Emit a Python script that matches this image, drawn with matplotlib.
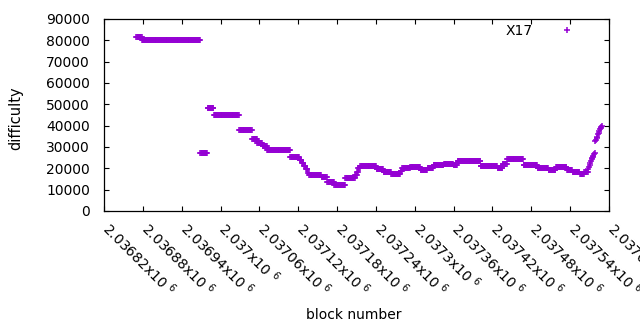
import numpy as np
import matplotlib
matplotlib.use("Agg")
import matplotlib.pyplot as plt
from matplotlib.transforms import ScaledTranslation

plt.rcParams['font.family'] = ['DejaVu Sans']
plt.rcParams['mathtext.default'] = 'regular'

run_start = [2036870, 2036879, 2036969, 2036980, 2036990, 2037029, 2037049, 2037057,
             2037065, 2037072, 2037108, 2037122, 2037126, 2037129, 2037132, 2037135,
             2037137, 2037156, 2037165, 2037176, 2037193, 2037208, 2037211, 2037213,
             2037216, 2037241, 2037252, 2037264, 2037278, 2037281, 2037293, 2037309,
             2037320, 2037329, 2037345, 2037360, 2037366, 2037402, 2037428, 2037436,
             2037443, 2037468, 2037490, 2037507, 2037518, 2037535, 2037544, 2037555,
             2037562]
run_end = [2036878, 2036968, 2036979, 2036989, 2037028, 2037048, 2037056, 2037064,
           2037071, 2037107, 2037121, 2037125, 2037128, 2037131, 2037134, 2037136,
           2037155, 2037164, 2037175, 2037192, 2037207, 2037210, 2037212, 2037215,
           2037240, 2037251, 2037263, 2037277, 2037280, 2037292, 2037308, 2037319,
           2037328, 2037344, 2037359, 2037365, 2037401, 2037427, 2037435, 2037442,
           2037467, 2037489, 2037506, 2037517, 2037534, 2037543, 2037554, 2037561,
           2037566]
run_value = [81500, 80000, 27000, 48500, 45000, 38000, 33600, 32000,
             30700, 28600, 25500, 24000, 22500, 21000, 19500, 18000,
             17000, 15800, 13500, 12400, 15400, 17000, 18500, 20000,
             21000, 19600, 18500, 17300, 18700, 20000, 20400, 19200,
             20000, 21400, 22000, 21500, 23600, 21000, 20000, 22000,
             24200, 21600, 20000, 19400, 20400, 19300, 18200, 17300,
             18400]

# last blocks, one value each
tail_block = list(range(2037567, 2037590))
tail_value = [18500, 19500, 20500, 21500, 22500, 23500, 24500, 25000, 25500, 26000,
              26500, 27000, 33000, 33500, 34000, 34500, 36000, 36500, 37500, 38500,
              39000, 39500, 40000]

xticks = np.arange(2036820, 2037601, 60)
yticks = np.arange(0, 90001, 10000)

blocks = np.concatenate([np.arange(s, e + 1) for s, e in zip(run_start, run_end)] + [tail_block])
diff = np.concatenate([np.repeat(v, e - s + 1) for s, e, v in zip(run_start, run_end, run_value)] + [tail_value])

fig = plt.figure(figsize=(6.4, 3.3), dpi=100)
ax = fig.add_axes([104 / 640, 1 - 211 / 330, 505 / 640, 192 / 330])

ax.plot(blocks, diff, '+', color='#9400d3', markersize=5, markeredgewidth=1.1, label='X17')

ax.set_xlim(xticks[0], xticks[-1])
ax.set_ylim(0, 90000)
ax.set_xticks(xticks)
ax.set_xticklabels(['{:g}x10 $^{{6}}$'.format(v / 1e6) for v in xticks],
                   rotation=-45, ha='left', va='top', rotation_mode='anchor')
ax.set_yticks(yticks)
ax.set_yticklabels([str(v) for v in yticks])

ax.tick_params(direction='in', length=3.5, width=0.8, top=True, right=True, labelsize=10)
ax.tick_params(axis='y', pad=10)
ax.tick_params(axis='x', pad=6)
# shift the slanted labels a little to the right of their ticks
shift = ScaledTranslation(0.08, 0, fig.dpi_scale_trans)
for lab in ax.get_xticklabels():
    lab.set_transform(lab.get_transform() + shift)
for spine in ax.spines.values():
    spine.set_linewidth(0.9)

ax.set_xlabel('block number', fontsize=10)
ax.set_ylabel('difficulty', fontsize=10.5)
ax.xaxis.set_label_coords(0.495, -0.505)
ax.yaxis.set_label_coords(-0.159, 0.482)

ax.legend(loc='upper right', bbox_to_anchor=(0.937, 0.974), frameon=False,
          markerfirst=False, fontsize=10, handletextpad=1.7, handlelength=1.5,
          borderpad=0, borderaxespad=0)

fig.savefig('out.png', dpi=100)
plt.close(fig)
